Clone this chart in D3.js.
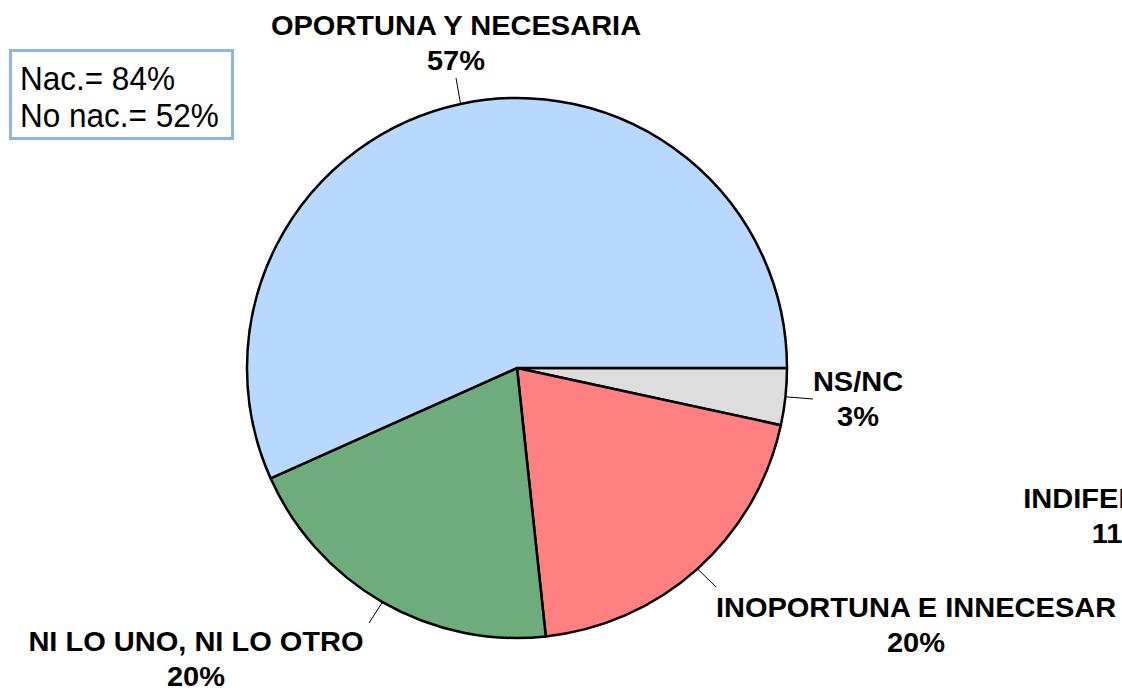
<!DOCTYPE html>
<html>
<head>
<meta charset="utf-8">
<script src="https://cdn.jsdelivr.net/npm/d3@7"></script>
<style>
  body { margin: 0; background: #fff; }
  text { font-family: "Liberation Sans", Arial, sans-serif; }
</style>
</head>
<body>
<svg id="chart" width="1122" height="691"></svg>
<script>
// slices, clockwise from 3 o'clock
var categories = ["NS/NC", "INOPORTUNA E INNECESAR", "NI LO UNO, NI LO OTRO", "OPORTUNA Y NECESARIA"];
var values = [3.4, 19.9, 20.0, 56.7];
var pctLabels = ["3%", "20%", "20%", "57%"];
var colors = ["#dddddd", "#ff8080", "#6fac7c", "#b8d8fe"];

// label with no slice (cut off at right border in the original)
var strayLabels = ["INDIFERENTE", "11%"];

var boxLines = ["Nac.= 84%", "No nac.= 52%"];

var cx = 517, cy = 368, r = 270;

// manual label spots (centre x, first baseline y) and leader line ends
var labelPos = [
  {x: 858, y: 391, lx: 813, ly: 399},
  {x: 916, y: 617, lx: 716, ly: 587},
  {x: 196, y: 651, lx: 369, ly: 623},
  {x: 456, y: 35, lx: 456, ly: 78}
];

var fs = 27, sx = 1.075, lineGap = 35;

var svg = d3.select("#chart");

var pie = d3.pie()
  .sort(null)
  .value(function (d) { return d; })
  .startAngle(Math.PI / 2)
  .endAngle(Math.PI / 2 + 2 * Math.PI);

var arc = d3.arc().innerRadius(0).outerRadius(r);
var edge = d3.arc().innerRadius(r).outerRadius(r);

var arcs = pie(values);

var g = svg.append("g").attr("transform", "translate(" + cx + "," + cy + ")");

g.selectAll(".slice")
  .data(arcs)
  .enter()
    .append("path")
      .attr("class", "slice")
      .attr("d", arc)
      .attr("fill", function (d, i) { return colors[i]; })
      .attr("stroke", "#000")
      .attr("stroke-width", 2.5)
      .attr("stroke-linejoin", "round");

// leader lines from the middle of each slice's rim
g.selectAll(".leader")
  .data(arcs)
  .enter()
    .append("line")
      .attr("class", "leader")
      .attr("x1", function (d) { return edge.centroid(d)[0]; })
      .attr("y1", function (d) { return edge.centroid(d)[1]; })
      .attr("x2", function (d, i) { return labelPos[i].lx - cx; })
      .attr("y2", function (d, i) { return labelPos[i].ly - cy; })
      .attr("stroke", "#000")
      .attr("stroke-width", 1);

function twoLines(sel, getX, getY, first, second) {
  var t = sel.append("text")
    .attr("transform", function (d, i) {
      return "translate(" + getX(d, i) + "," + getY(d, i) + ") scale(" + sx + ",1)";
    })
    .attr("text-anchor", "middle")
    .attr("font-size", fs)
    .attr("font-weight", "bold")
    .attr("fill", "#000");
  t.append("tspan").attr("x", 0).attr("y", 0).text(first);
  t.append("tspan").attr("x", 0).attr("y", lineGap).text(second);
  return t;
}

var labelG = svg.selectAll(".slice-label")
  .data(arcs)
  .enter()
    .append("g")
      .attr("class", "slice-label");

twoLines(labelG,
  function (d, i) { return labelPos[i].x; },
  function (d, i) { return labelPos[i].y; },
  function (d, i) { return categories[i]; },
  function (d, i) { return pctLabels[i]; });

twoLines(svg.append("g").datum(strayLabels),
  function () { return 1120; },
  function () { return 508; },
  function (d) { return d[0]; },
  function (d) { return d[1]; });

// note box, top left
svg.append("rect")
  .attr("x", 10.5)
  .attr("y", 50.5)
  .attr("width", 222)
  .attr("height", 88)
  .attr("fill", "#fff")
  .attr("stroke", "#8db4e2")
  .attr("stroke-width", 3);

svg.selectAll(".box-line")
  .data(boxLines)
  .enter()
    .append("text")
      .attr("class", "box-line")
      .attr("transform", function (d, i) { return "translate(20," + (90 + i * 37) + ") scale(1,1.05)"; })
      .attr("font-size", 31.5)
      .text(function (d) { return d; });
</script>
</body>
</html>
